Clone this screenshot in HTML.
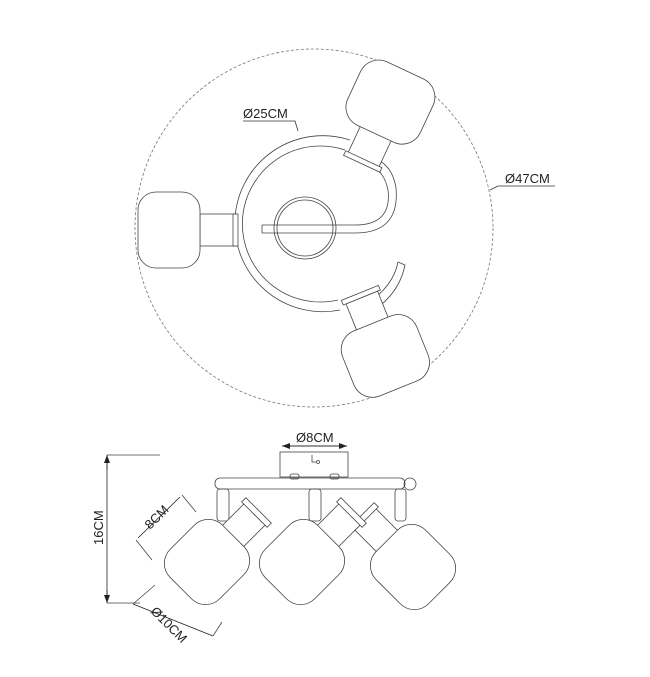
<!DOCTYPE html>
<html><head><meta charset="utf-8"><style>
html,body{margin:0;padding:0;background:#fff;}
svg{display:block;}
text{font-family:"Liberation Sans",sans-serif;font-size:13px;fill:#222;}
</style></head><body>
<svg width="650" height="677" viewBox="0 0 650 677" xmlns="http://www.w3.org/2000/svg">
<defs>
<marker id="ar" markerWidth="8" markerHeight="6" refX="8" refY="3" orient="auto" markerUnits="userSpaceOnUse"><path d="M0,0 L8,3 L0,6z" fill="#222"/></marker>
</defs>
<g fill="none" stroke="#444" stroke-width="0.8">
<!-- top view -->
<circle cx="314" cy="228" r="179" stroke="#777" stroke-dasharray="3,2"/>
<path d="M350,140 A88,88 0 1 0 340,310" />
<path d="M345,150 A78,78 0 1 0 338,300" />
<circle cx="305" cy="228" r="31"/>
<circle cx="305" cy="228" r="28"/>
<path d="M262,225 L355,225 Q392,225 388,190 Q384,170 368,164"/>
<path d="M262,233 L355,233 Q400,233 396,188 Q392,163 372,158"/>
<path d="M262,225 L262,233"/>
<path d="M398,262 L405,265 Q398,300 360,318 M398,262 Q392,292 355,310"/>
<g fill="#fff">
<!-- left lamp -->
<rect x="200" y="214" width="36" height="32"/>
<rect x="233" y="214" width="5" height="32"/>
<rect x="138" y="192" width="62" height="76" rx="18"/>
<!-- top lamp -->
<g transform="translate(390,103) rotate(25)">
<rect x="-17" y="30" width="34" height="34"/>
<rect x="-20" y="62" width="40" height="5"/>
<rect x="-40" y="-36" width="80" height="70" rx="20"/>
</g>
<!-- bottom lamp -->
<g transform="translate(385,355) rotate(-22)">
<rect x="-17" y="-62" width="34" height="30"/>
<rect x="-20" y="-67" width="40" height="5"/>
<rect x="-40" y="-34" width="80" height="70" rx="20"/>
</g>
</g>
<!-- dims top -->
<path d="M243,121 L295,121 L298,131" stroke="#333"/>
<path d="M555,186 L498,186 L490,190" stroke="#333"/>
<!-- side view -->
<rect x="280" y="452" width="68" height="25"/>
<path d="M282,446 L347,446" stroke="#222" marker-end="url(#ar)"/>
<path d="M347,446 L282,446" stroke="#222" marker-end="url(#ar)"/>
<path d="M312,455 L312,462 L316,462"/><circle cx="318" cy="462" r="1.5"/>
<rect x="290" y="474" width="9" height="5" rx="2"/><rect x="330" y="474" width="9" height="5" rx="2"/>
<rect x="215" y="478" width="190" height="11" rx="5"/>
<circle cx="410" cy="484" r="6"/>
<rect x="217" y="489" width="12" height="32" rx="3"/>
<rect x="309" y="489" width="12" height="32" rx="3"/>
<rect x="395" y="489" width="11" height="32" rx="3"/>
<g fill="#fff">
<g transform="translate(207,562) rotate(45)">
<rect x="-15" y="-68" width="30" height="32"/>
<rect x="-18" y="-73" width="36" height="6"/>
<rect x="-35" y="-37" width="70" height="74" rx="20"/>
</g>
<g transform="translate(413,567) rotate(-45)">
<rect x="-15" y="-68" width="30" height="32"/>
<rect x="-18" y="-73" width="36" height="6"/>
<rect x="-35" y="-37" width="70" height="74" rx="20"/>
</g>
<g transform="translate(302,562) rotate(45)">
<rect x="-15" y="-68" width="30" height="32"/>
<rect x="-18" y="-73" width="36" height="6"/>
<rect x="-35" y="-37" width="70" height="74" rx="20"/>
</g>
</g>
<!-- side dims -->
<path d="M107,455 L160,455 M107,603 L140,603"/>
<path d="M107,470 L107,455" stroke="#222" marker-end="url(#ar)"/>
<path d="M107,590 L107,603" stroke="#222" marker-end="url(#ar)"/>
<path d="M107,460 L107,598" stroke="#222"/>
<path d="M138,538 L180,497" stroke="#222"/>
<path d="M136,540 L152,560 M182,495 L196,512"/>
<path d="M133,604 L213,636" stroke="#222"/>
<path d="M133,604 L155,585 M213,636 L222,622"/>
</g>
<text x="243" y="118">Ø25CM</text>
<text x="505" y="183">Ø47CM</text>
<text x="296" y="442">Ø8CM</text>
<text transform="translate(103,545) rotate(-90)">16CM</text>
<text transform="translate(150,530) rotate(-45)">8CM</text>
<text transform="translate(150,612) rotate(45)">Ø10CM</text>
</svg>
</body></html>
